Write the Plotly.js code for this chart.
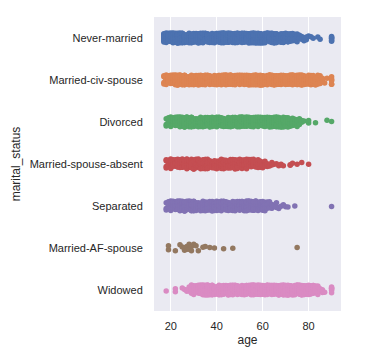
<!DOCTYPE html>
<html>
<head>
<meta charset="utf-8">
<script src="https://cdn.plot.ly/plotly-3.0.1.min.js"></script>
<style>
html, body { margin: 0; padding: 0; background: #ffffff; }
#chart { width: 382px; height: 356px; }
</style>
</head>
<body>
<div id="chart"></div>
<script>
// ---- data ----
const categories = ["Never-married", "Married-civ-spouse", "Divorced", "Married-spouse-absent", "Separated", "Married-AF-spouse", "Widowed"];
const xTickValues = [20, 40, 60, 80];

const ages = [17,18,19,20,21,22,23,24,25,26,
              27,28,29,30,31,32,33,34,35,36,
              37,38,39,40,41,42,43,44,45,46,
              47,48,49,50,51,52,53,54,55,56,
              57,58,59,60,61,62,63,64,65,66,
              67,68,69,70,71,72,73,74,75,76,
              77,78,79,80,81,82,83,84,85,86,
              87,88,89,90];

// number of drawn points at each age (estimated from the picture's density)
const neverMarried = [12,12,12,12,12,12,12,12,12,12,
                      12,12,12,12,12,12,12,12,12,12,
                      12,12,12,12,12,12,12,12,12,12,
                      12,12,12,12,12,12,12,12,12,12,
                      12,12,12,12,11,11,10,9,9,8,
                      8,7,7,6,6,5,4,3,3,3,
                      2,2,2,1,1,1,0,1,1,0,
                      0,0,0,6];
const marriedCivSpouse = [4,12,12,12,12,12,12,12,12,12,
                          12,12,12,12,12,12,12,12,12,12,
                          12,12,12,12,12,12,12,12,12,12,
                          12,12,12,12,12,12,12,12,12,12,
                          12,12,12,12,12,12,12,12,12,12,
                          12,12,12,12,12,12,12,12,12,12,
                          12,12,12,12,10,8,6,5,3,2,
                          1,1,0,6];
const divorced = [0,3,6,10,10,10,10,10,10,10,
                  10,10,10,10,10,10,10,10,10,10,
                  10,10,10,10,10,10,10,10,10,10,
                  10,10,10,10,10,10,10,10,10,10,
                  10,10,10,10,10,10,10,10,10,10,
                  10,9,8,7,6,6,5,4,3,2,
                  2,1,0,2,0,0,1,0,0,0,
                  0,1,0,1];
const marriedSpouseAbsent = [0,4,6,6,6,6,6,6,6,6,
                             6,6,6,6,6,6,6,6,6,6,
                             6,6,6,6,6,6,6,6,6,6,
                             6,6,6,6,6,6,5,5,5,5,
                             4,4,4,3,3,2,1,2,1,1,
                             1,2,1,0,0,2,1,0,1,0,
                             1,0,0,1,0,0,0,0,0,0,
                             0,0,0,0];
const separated = [0,3,9,9,9,9,9,9,9,9,
                   9,9,9,9,9,9,9,9,9,9,
                   9,9,9,9,9,9,9,9,9,9,
                   9,9,9,9,9,9,9,9,9,9,
                   8,8,7,6,5,4,3,3,2,2,
                   2,1,1,1,1,0,0,1,0,0,
                   0,0,0,0,0,0,0,0,0,0,
                   0,0,0,1];
const marriedAFSpouse = [0,0,2,0,0,1,0,1,1,2,
                         2,2,2,1,1,1,0,1,1,0,
                         1,0,1,0,0,0,1,0,0,0,
                         1,0,0,0,0,0,0,0,0,0,
                         0,0,0,0,0,0,0,0,0,0,
                         0,0,0,0,0,0,0,0,1,0,
                         0,0,0,0,0,0,0,0,0,0,
                         0,0,0,0];
const widowed = [0,1,0,0,0,2,0,0,1,1,
                 2,3,4,6,8,10,11,12,12,12,
                 12,12,12,12,12,12,12,12,12,12,
                 12,12,12,12,12,12,12,12,12,12,
                 12,12,12,12,12,12,12,12,12,12,
                 12,12,12,12,12,12,12,12,12,12,
                 12,12,12,11,9,7,5,4,3,2,
                 1,0,0,6];

// ---- styles ----
const colors = ["#4C72B0", "#DD8452", "#55A868", "#C44E52", "#8172B3", "#937860", "#DA8BC3"];

const countsByCategory = [neverMarried, marriedCivSpouse, divorced, marriedSpouseAbsent, separated, marriedAFSpouse, widowed];

const traces = categories.map(function (cat, k) {
  const x = [], y = [];
  countsByCategory[k].forEach(function (n, i) {
    for (let j = 0; j < n; j++) { x.push(ages[i]); y.push(cat); }
  });
  return {
    type: 'box', orientation: 'h', x: x, y: y, name: cat,
    boxpoints: 'all', jitter: 1, pointpos: 0, width: 0.24,
    fillcolor: 'rgba(0,0,0,0)',
    line: { width: 0, color: 'rgba(0,0,0,0)' },
    marker: { color: colors[k], size: 5.5, opacity: 1, line: { width: 0 } },
    hoveron: 'points', showlegend: false
  };
});

const layout = {
  width: 382, height: 356,
  margin: { l: 154, r: 41, t: 17, b: 45, pad: 0 },
  paper_bgcolor: '#ffffff', plot_bgcolor: '#EAEAF2',
  font: { family: '"Liberation Sans", Arial, sans-serif', size: 11, color: '#262626' },
  showlegend: false, boxmode: 'overlay',
  xaxis: {
    range: [12.7, 94.1], tickmode: 'array', tickvals: xTickValues,
    showgrid: true, gridcolor: '#ffffff', gridwidth: 1,
    zeroline: false, showline: false,
    ticks: 'outside', ticklen: 5, tickcolor: 'rgba(0,0,0,0)',
    tickfont: { size: 11, color: '#262626' },
    title: { text: 'age', font: { size: 12, color: '#262626' }, standoff: 4 }
  },
  yaxis: {
    type: 'category', categoryorder: 'array', categoryarray: categories,
    range: [6.5, -0.5],
    showgrid: false, zeroline: false, showline: false,
    ticks: 'outside', ticklen: 8, tickcolor: 'rgba(0,0,0,0)',
    tickfont: { size: 11, color: '#262626' },
    title: { text: 'marital_status', font: { size: 12, color: '#262626' }, standoff: 6 }
  }
};

Plotly.newPlot('chart', traces, layout, { displayModeBar: false, staticPlot: true });
</script>
</body>
</html>
